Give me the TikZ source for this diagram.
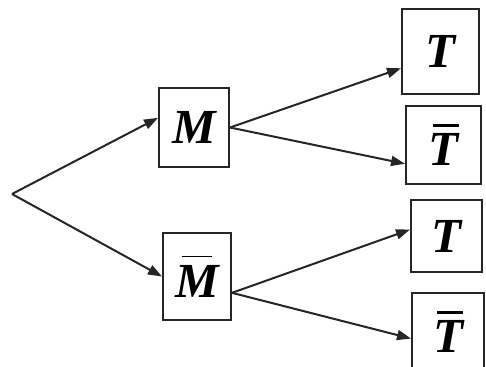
\documentclass[tikz,border=0pt]{standalone}
\usepackage{fontspec}
\setmainfont{Liberation Serif}
\usetikzlibrary{arrows.meta}
\newcommand\ovl[5]{\vbox{\offinterlineskip\hbox{\kern#4\vrule height #2 depth 0pt width #5}\kern#3\hbox{#1}}}
\definecolor{ink}{gray}{0.15}
\tikzset{
  box/.style={draw=ink, line width=2bp, inner sep=0pt, text=black,
    font=\fontsize{49bp}{50bp}\selectfont\bfseries\itshape},
  conn/.style={draw=ink, line width=2bp, -{Triangle[length=14bp,width=10bp]}}
}
\begin{document}
\begin{tikzpicture}[x=1bp,y=-1bp]
\clip (0,0) rectangle (486,366);
\fill[white] (0,0) rectangle (486,366);
\coordinate (root) at (12,194);
\node[box, minimum width=70bp, minimum height=79bp] (M) at (194,127.5) {M};
\node[box, minimum width=68bp, minimum height=87bp] (Mb) at (197,276.5) {\ovl{M}{1.5bp}{8bp}{7bp}{30bp}};
\node[box, minimum width=77bp, minimum height=85bp] (T1) at (440.5,51.5) {T};
\node[box, minimum width=75bp, minimum height=78bp] (Tb1) at (443.5,145) {\ovl{T}{3bp}{6bp}{4bp}{26bp}};
\node[box, minimum width=71bp, minimum height=72bp] (T2) at (446.5,236) {T};
\node[box, minimum width=72bp, minimum height=78bp] (Tb2) at (448,332) {\ovl{T}{3bp}{6bp}{4bp}{26bp}};
\draw[conn] (root) -- (M.165);
\draw[conn] (root) -- (Mb.west);
\draw[conn] (M.east) -- (T1.203);
\draw[conn] (M.east) -- (Tb1.206);
\draw[conn] (Mb.-25) -- (T2.170);
\draw[conn] (Mb.-25) -- (Tb2.190);
\end{tikzpicture}
\end{document}
